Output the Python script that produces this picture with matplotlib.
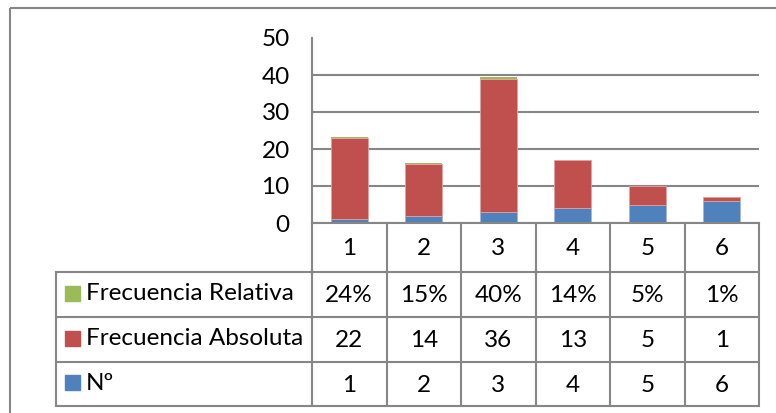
import matplotlib.pyplot as plt
from matplotlib import transforms
from matplotlib.patches import Rectangle

plt.rcParams['font.family'] = ['Lato', 'DejaVu Sans']

categorias = ["1", "2", "3", "4", "5", "6"]
numero = [1, 2, 3, 4, 5, 6]
frec_absoluta = [22, 14, 36, 13, 5, 1]
frec_relativa = [0.24, 0.15, 0.40, 0.14, 0.05, 0.01]

azul = "#4F81BD"
rojo = "#C0504D"
verde = "#9BBB59"
gris = "#868686"
fs = 17.5

W, H = 776, 413
fig = plt.figure(figsize=(W / 100, H / 100), dpi=100)

# capa de fondo en pixeles para la tabla de datos y el borde
tab = fig.add_axes([0, 0, 1, 1], zorder=0)
tab.set_xlim(0, W)
tab.set_ylim(H, 0)
tab.axis("off")

ax = fig.add_axes([312 / W, (H - 223) / H, (759 - 312) / W, (223 - 38) / H], zorder=1)
ax.patch.set_alpha(0)
x = range(1, len(categorias) + 1)
ax.bar(x, numero, width=0.5, color=azul, edgecolor="#9DB8DC", linewidth=0.6)
ax.bar(x, frec_absoluta, width=0.5, bottom=numero, color=rojo,
       edgecolor="#E0A3A1", linewidth=0.6)
base = [a + b for a, b in zip(numero, frec_absoluta)]
ax.bar(x, frec_relativa, width=0.5, bottom=base, color=verde, linewidth=0)

ax.set_xlim(0.5, len(categorias) + 0.5)
ax.set_ylim(0, 50)
ax.set_yticks(range(0, 51, 10))
ax.set_xticks([])
ax.grid(True, axis="y", color=gris, linewidth=1.5)
ax.yaxis.get_gridlines()[-1].set_visible(False)
ax.set_axisbelow(True)
for s in ["top", "right"]:
    ax.spines[s].set_visible(False)
for s in ["left", "bottom"]:
    ax.spines[s].set_color(gris)
    ax.spines[s].set_linewidth(1.5)
ax.tick_params(axis="y", length=0, pad=16, labelsize=fs)

# tabla de datos
filas = [
    ("Frecuencia Relativa", verde, [f"{v:.0%}" for v in frec_relativa]),
    ("Frecuencia Absoluta", rojo, [str(v) for v in frec_absoluta]),
    ("Nº", azul, [str(v) for v in numero]),
]
bordes = [223, 272, 317, 362, 406]
mix = transforms.blended_transform_factory(ax.transData, tab.transData)
lw = 1.5

for y in bordes[1:]:
    tab.plot([56, 759], [y, y], color=gris, lw=lw, solid_capstyle="butt")
tab.plot([56, 56], [bordes[1], bordes[-1]], color=gris, lw=lw)
for i in range(len(categorias) + 1):
    tab.plot([0.5 + i, 0.5 + i], [bordes[0], bordes[-1]], color=gris, lw=lw,
             transform=mix)

centro = (bordes[0] + bordes[1]) / 2
for xi, c in zip(x, categorias):
    tab.text(xi, centro + 1, c, transform=mix, ha="center", va="center", fontsize=fs)

for j, (nombre, color, valores) in enumerate(filas):
    yc = (bordes[j + 1] + bordes[j + 2]) / 2
    tab.add_patch(Rectangle((65, yc - 9), 15, 15, color=color))
    tab.text(86, yc - 1, nombre, ha="left", va="center", fontsize=fs)
    for xi, v in zip(x, valores):
        tab.text(xi, yc + 1, v, transform=mix, ha="center", va="center", fontsize=fs)

# borde del grafico
tab.add_patch(Rectangle((10, 8), W, H, fill=False, edgecolor=gris, lw=1.5))

fig.savefig("out.png", dpi=100)
